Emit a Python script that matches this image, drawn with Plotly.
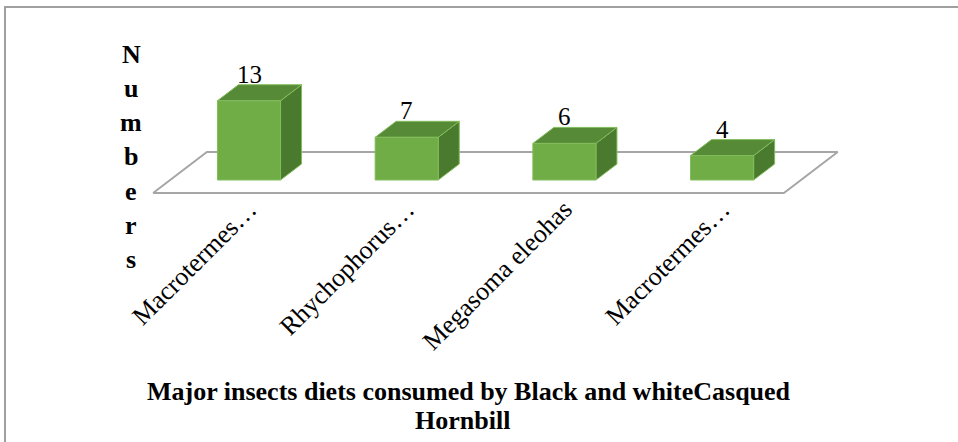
import plotly.graph_objects as go

# ---- data ----
categories = ["Macrotermes…", "Rhychophorus…", "Megasoma eleohas", "Macrotermes…"]
values = [13, 7, 6, 4]
y_title_letters = list("Numbers")
title_line1 = "Major insects diets consumed by Black and whiteCasqued"
title_line2 = "Hornbill"

# ---- 3D geometry (axis units) ----
BAR_HALF = 0.2
DEPTH_X = 0.1332
DEPTH_Y = 2.62
FLOOR_FRONT = -0.8125
FLOOR_BACK = 1.75

FRONT_C = "#70AD47"
TOP_C = "#568A37"
SIDE_C = "#4A7A2D"
EDGE_C = "#82BC5C"

W, H = 958, 442
L, R, T, B = 100, 900, 40, 200
XR = [(L - 249) / 157.7, (R - 249) / 157.7]
YR = [(180 - B) / 6.1, (180 - T) / 6.1]


def px2x(px):
    return (px - L) / (R - L)


def py2y(py):
    return (B - py) / (B - T)


fig = go.Figure()

n = len(categories)
fx0, fx1 = -0.5, n - 0.5
fxf, fyf = FLOOR_FRONT * DEPTH_X, FLOOR_FRONT * DEPTH_Y
fxb, fyb = FLOOR_BACK * DEPTH_X, FLOOR_BACK * DEPTH_Y
fig.add_trace(go.Scatter(
    x=[fx0 + fxf, fx1 + fxf, fx1 + fxb, fx0 + fxb, fx0 + fxf],
    y=[fyf, fyf, fyb, fyb, fyf],
    mode="lines", fill="toself", fillcolor="white",
    line=dict(color="#A6A6A6", width=2), hoverinfo="skip", showlegend=False))

fx, fy, tx, ty, sx, sy = [], [], [], [], [], []
for i, v in enumerate(values):
    a, b = i - BAR_HALF, i + BAR_HALF
    fx += [a, b, b, a, a, None]
    fy += [0, 0, v, v, 0, None]
    tx += [a, b, b + DEPTH_X, a + DEPTH_X, a, None]
    ty += [v, v, v + DEPTH_Y, v + DEPTH_Y, v, None]
    sx += [b, b + DEPTH_X, b + DEPTH_X, b, b, None]
    sy += [0, DEPTH_Y, v + DEPTH_Y, v, 0, None]

for xs, ys, c in [(sx, sy, SIDE_C), (tx, ty, TOP_C), (fx, fy, FRONT_C)]:
    fig.add_trace(go.Scatter(x=xs, y=ys, mode="lines", fill="toself",
                             fillcolor=c, line=dict(color=EDGE_C, width=1),
                             hoverinfo="skip", showlegend=False))

serif = "Liberation Serif, Times New Roman, serif"
annotations = []
for i, v in enumerate(values):
    annotations.append(dict(x=i, y=v + DEPTH_Y, xref="x", yref="y",
                            text=str(v), showarrow=False, yanchor="bottom",
                            yshift=-5, font=dict(family=serif, size=25, color="black")))

for k, ch in enumerate(y_title_letters):
    base = 62 + 34.3 * k
    annotations.append(dict(x=px2x(131), y=py2y(base - 8), xref="paper", yref="paper",
                            text=ch, showarrow=False, xanchor="center", yanchor="middle",
                            font=dict(family=serif, size=26, color="black", weight="bold")))

annotations.append(dict(x=px2x(469), y=py2y(400.5 - 9), xref="paper", yref="paper",
                        text=title_line1, showarrow=False, xanchor="center", yanchor="middle",
                        font=dict(family=serif, size=26, color="black", weight="bold")))
annotations.append(dict(x=px2x(462), y=py2y(429.5 - 9), xref="paper", yref="paper",
                        text=title_line2, showarrow=False, xanchor="center", yanchor="middle",
                        font=dict(family=serif, size=26, color="black", weight="bold")))

fig.update_layout(
    width=W, height=H,
    margin=dict(l=L, r=W - R, t=T, b=H - B),
    paper_bgcolor="white", plot_bgcolor="white",
    xaxis=dict(range=XR, tickmode="array", tickvals=list(range(n)), ticktext=categories,
               tickangle=-45, showgrid=False, zeroline=False, showline=False, ticks="",
               ticklabelstandoff=-12,
               tickfont=dict(family=serif, size=26, color="black"), fixedrange=True),
    yaxis=dict(range=YR, visible=False, fixedrange=True),
    annotations=annotations,
    shapes=[dict(type="rect", xref="paper", yref="paper",
                 x0=px2x(5), x1=px2x(1000), y0=py2y(480), y1=py2y(7),
                 line=dict(color="#A0A0A0", width=2), layer="below")],
    showlegend=False,
)

fig.write_html("out.html")
